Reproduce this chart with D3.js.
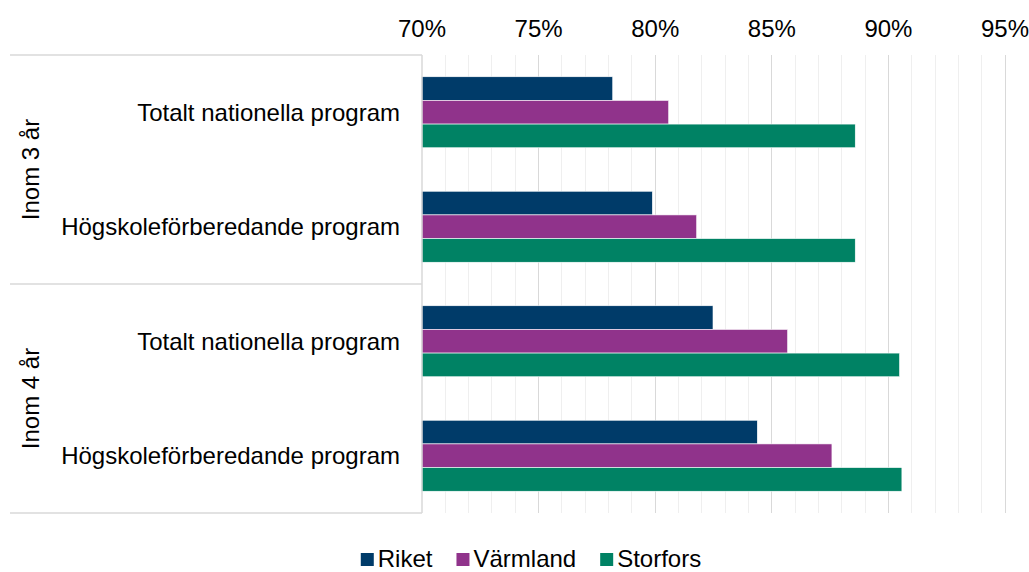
<!DOCTYPE html>
<html>
<head>
<meta charset="utf-8">
<script src="https://cdn.jsdelivr.net/npm/d3@7"></script>
<style>
  body { margin: 0; background: #fff; }
  svg { font-family: "Liberation Sans", Arial, sans-serif; }
</style>
</head>
<body>
<svg id="chart" width="1029" height="572"></svg>
<script>
// data
var groups = ['Inom 3 år', 'Inom 4 år'];
var programs = ['Totalt nationella program', 'Högskoleförberedande program'];
var seriesNames = ['Riket', 'Värmland', 'Storfors'];
var seriesColors = ['#003b69', '#90338b', '#008264'];
// values per row (group x program), one array per series
var riket    = [78.2, 79.9, 82.5, 84.4];
var varmland = [80.6, 81.8, 85.7, 87.6];
var storfors = [88.6, 88.6, 90.5, 90.6];
var tickValues = [70, 75, 80, 85, 90, 95];

var seriesValues = [riket, varmland, storfors];
var rows = [];
groups.forEach(function(g, gi) {
  programs.forEach(function(p, pi) {
    rows.push({ key: g + '|' + p, group: g, program: p, idx: gi * programs.length + pi });
  });
});

var svg = d3.select('#chart');
var plotLeft = 421.5, plotRight = 1004.5, plotTop = 55, plotBottom = 513, outerLeft = 10;
var fontSize = '24px';

var x = d3.scaleLinear().domain([70, 95]).range([plotLeft, plotRight]);
var y = d3.scaleBand().domain(rows.map(function(d) { return d.key; }))
  .range([plotTop, plotBottom]).paddingInner(0.38).paddingOuter(0.19);
var ySub = d3.scaleBand().domain(seriesNames).range([0, y.bandwidth()]);

// minor gridlines every 1%
svg.append('g').selectAll('line')
  .data(d3.range(71, 96).filter(function(v) { return v % 5 !== 0; }))
  .join('line')
  .attr('x1', function(d) { return Math.round(x(d)) + 0.5; })
  .attr('x2', function(d) { return Math.round(x(d)) + 0.5; })
  .attr('y1', plotTop).attr('y2', plotBottom)
  .attr('stroke', '#efefef').attr('stroke-width', 1);

// major gridlines
svg.append('g').selectAll('line')
  .data(tickValues.slice(1))
  .join('line')
  .attr('x1', function(d) { return Math.round(x(d)) + 0.5; })
  .attr('x2', function(d) { return Math.round(x(d)) + 0.5; })
  .attr('y1', plotTop).attr('y2', plotBottom)
  .attr('stroke', '#d9d9d9').attr('stroke-width', 1);

// top axis labels
var xAxis = svg.append('g')
  .attr('transform', 'translate(0,' + 37 + ')')
  .call(d3.axisTop(x).tickValues(tickValues).tickSize(0).tickPadding(0)
    .tickFormat(function(d) { return d + '%'; }));
xAxis.select('.domain').remove();
xAxis.selectAll('text')
  .attr('fill', '#000')
  .attr('dy', 0)
  .style('font-size', fontSize)
  .style('font-family', '"Liberation Sans", Arial, sans-serif');

// bars
seriesNames.forEach(function(s, si) {
  svg.append('g').selectAll('rect')
    .data(rows)
    .join('rect')
    .attr('x', x(70))
    .attr('y', function(d) { return y(d.key) + ySub(s); })
    .attr('width', function(d) { return x(seriesValues[si][d.idx]) - x(70); })
    .attr('height', ySub.bandwidth())
    .attr('fill', seriesColors[si])
    .attr('stroke', '#fff')
    .attr('stroke-width', 0.6);
});

// category axis line and group separators
svg.append('line')
  .attr('x1', plotLeft + 0.5).attr('x2', plotLeft + 0.5)
  .attr('y1', plotTop).attr('y2', plotBottom)
  .attr('stroke', '#d9d9d9').attr('stroke-width', 1.5);

var groupH = (plotBottom - plotTop) / groups.length;
d3.range(groups.length + 1).forEach(function(i) {
  svg.append('line')
    .attr('x1', outerLeft).attr('x2', plotLeft + 0.5)
    .attr('y1', plotTop + i * groupH).attr('y2', plotTop + i * groupH)
    .attr('stroke', '#d9d9d9').attr('stroke-width', 1.5);
});

// program labels
svg.append('g').selectAll('text')
  .data(rows)
  .join('text')
  .attr('x', 400)
  .attr('y', function(d) { return y(d.key) + y.bandwidth() / 2; })
  .attr('dy', '0.35em')
  .attr('text-anchor', 'end')
  .style('font-size', fontSize)
  .attr('fill', '#000')
  .text(function(d) { return d.program; });

// group labels (rotated)
svg.append('g').selectAll('text')
  .data(groups)
  .join('text')
  .attr('transform', function(d, i) {
    return 'translate(31,' + (plotTop + (i + 0.5) * groupH) + ') rotate(-90)';
  })
  .attr('dy', '0.35em')
  .attr('text-anchor', 'middle')
  .style('font-size', fontSize)
  .attr('fill', '#000')
  .text(function(d) { return d; });

// legend, centred
var legend = svg.append('g');
var lx = 0;
seriesNames.forEach(function(s, i) {
  var item = legend.append('g').attr('transform', 'translate(' + lx + ',0)');
  item.append('rect')
    .attr('x', 0).attr('y', -6).attr('width', 13).attr('height', 13)
    .attr('fill', seriesColors[i]);
  var t = item.append('text')
    .attr('x', 17).attr('y', 0).attr('dy', '0.35em')
    .style('font-size', fontSize)
    .attr('fill', '#000')
    .text(s);
  lx += 17 + t.node().getComputedTextLength() + (i < seriesNames.length - 1 ? 24 : 0);
});
legend.attr('transform', 'translate(' + (531 - lx / 2) + ',559)');
</script>
</body>
</html>
